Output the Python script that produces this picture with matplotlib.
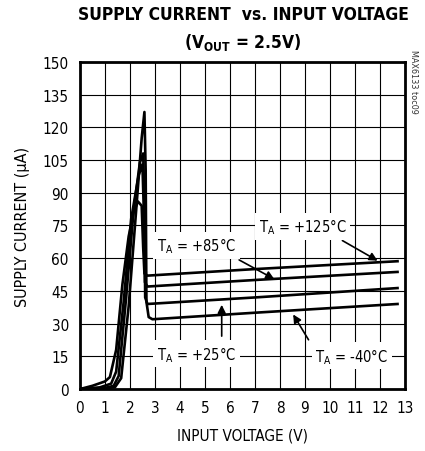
import numpy as np
import matplotlib
matplotlib.use('Agg')
import matplotlib.pyplot as plt

# supply current (uA) vs input voltage (V)
v_m40 = [0, 0.8, 1.4, 1.65, 1.95, 2.25, 2.47, 2.58, 2.63, 2.66, 2.75, 2.9, 7.0, 12.7]
i_m40 = [0, 0.3, 0.8, 5, 38, 82, 115, 127, 100, 40, 33, 32, 35, 39]

v_25 = [0, 1.0, 1.35, 1.55, 1.85, 2.15, 2.4, 2.53, 2.58, 2.61, 2.7, 7.0, 12.7]
i_25 = [0, 0.5, 1.5, 6, 42, 82, 104, 108, 85, 42, 39, 42, 46.3]

v_85 = [0, 0.8, 1.25, 1.45, 1.75, 2.05, 2.35, 2.5, 2.56, 2.6, 2.7, 7.0, 12.7]
i_85 = [0, 0.8, 2.5, 8, 40, 78, 98, 103, 80, 49, 47, 50, 53.7]

v_125 = [0, 0.5, 1.0, 1.2, 1.45, 1.7, 1.95, 2.15, 2.32, 2.47, 2.53, 2.58, 2.7, 7.0, 12.7]
i_125 = [0, 1.5, 3.5, 5.5, 18, 48, 70, 81, 86, 84, 65, 53, 52, 55, 58.6]

x_ticks = list(range(0, 14))
y_ticks = list(range(0, 151, 15))

plt.rcParams['font.family'] = ['Liberation Sans Narrow', 'DejaVu Sans']
plt.rcParams['font.stretch'] = 'condensed'

fig = plt.figure(figsize=(4.25, 4.52), dpi=100)
ax = fig.add_axes([0.188, 0.137, 0.765, 0.724])

for v, i in [(v_m40, i_m40), (v_25, i_25), (v_85, i_85), (v_125, i_125)]:
    ax.plot(v, i, color='black', lw=1.9, solid_joinstyle='round', zorder=3)

ax.set_xlim(0, 13)
ax.set_ylim(0, 150)
ax.set_xticks(x_ticks)
ax.set_yticks(y_ticks)
ax.grid(True, color='black', lw=0.8, zorder=0)
ax.tick_params(length=0, labelsize=11, pad=8)
for s in ax.spines.values():
    s.set_linewidth(2)

ax.set_xlabel('INPUT VOLTAGE (V)', fontsize=11, labelpad=9)
ax.set_ylabel('SUPPLY CURRENT (\u03bcA)', fontsize=11.5, labelpad=9)

bbox = dict(boxstyle='square,pad=0.25', fc='white', ec='none')
arr = dict(arrowstyle='-|>', color='black', lw=1.2, mutation_scale=12)

labels = [
    ('T$_\\mathregular{A}$ = +125\u00b0C', (8.9, 74.5), (12.0, 58.2), (10.4, 68.7)),
    ('T$_\\mathregular{A}$ = +85\u00b0C', (4.67, 66.0), (7.87, 49.8), (6.27, 59.8)),
    ('T$_\\mathregular{A}$ = +25\u00b0C', (4.67, 16.1), (5.67, 39.9), (5.67, 23.0)),
    ('T$_\\mathregular{A}$ = -40\u00b0C', (10.87, 15.3), (8.47, 35.3), (9.2, 21.5)),
]
for txt, pos, tip, tail in labels:
    ax.annotate('', xy=tip, xytext=tail, arrowprops=arr, zorder=4)
    ax.text(pos[0], pos[1], txt, ha='center', va='center', fontsize=10.5,
            bbox=bbox, zorder=5)

fig.text(0.572, 0.966, 'SUPPLY CURRENT  vs. INPUT VOLTAGE', ha='center',
         va='center', fontsize=12.5, fontweight='bold')
fig.text(0.572, 0.906, '(V$_\\mathregular{OUT}$ = 2.5V)', ha='center',
         va='center', fontsize=12.5, fontweight='bold')
fig.text(0.972, 0.889, 'MAX6133 toc09', rotation=270, ha='center', va='top',
         fontsize=6.5, color='#333333')

fig.savefig('out.png', dpi=100)
